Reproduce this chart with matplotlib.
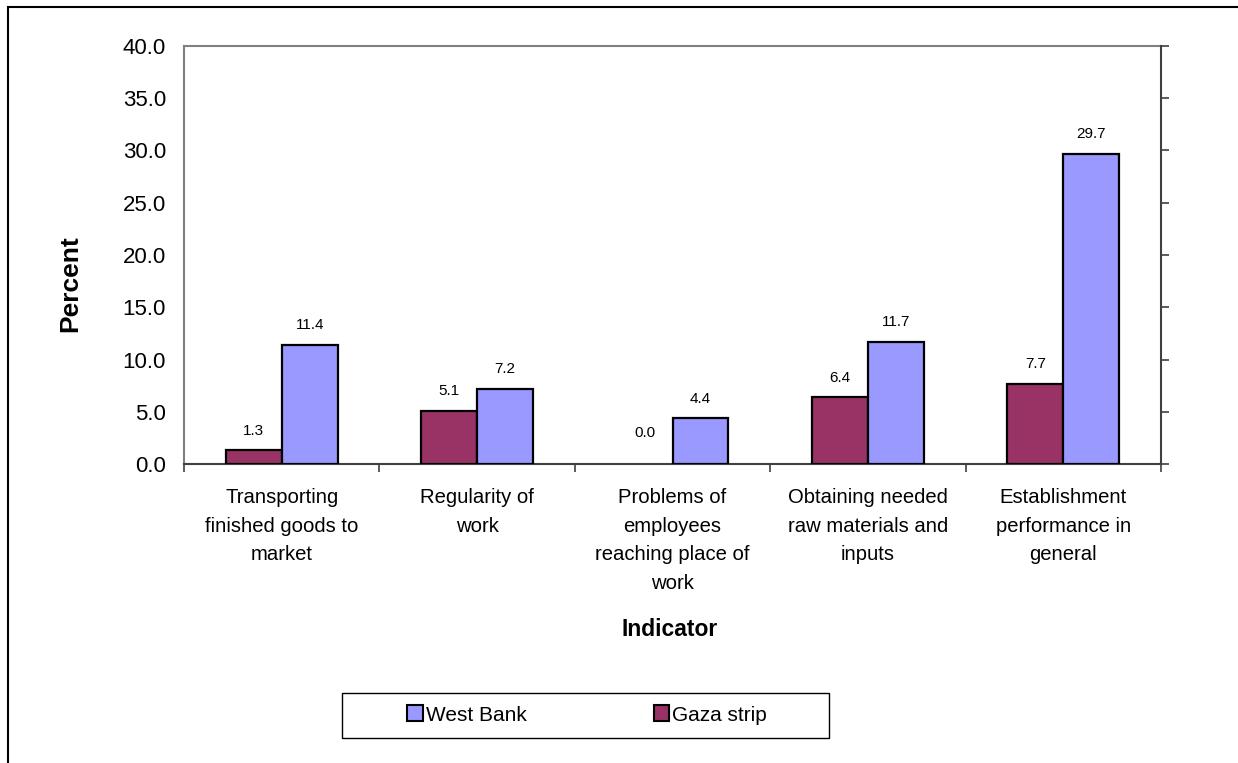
import numpy as np
import matplotlib
matplotlib.use("Agg")
import matplotlib.pyplot as plt
from matplotlib.patches import Rectangle, Patch

plt.rcParams["font.family"] = ["Liberation Sans", "DejaVu Sans"]

# data
categories = [
    "Transporting\nfinished goods to\nmarket",
    "Regularity of\nwork",
    "Problems of\nemployees\nreaching place of\nwork",
    "Obtaining needed\nraw materials and\ninputs",
    "Establishment\nperformance in\ngeneral",
]
gaza = [1.3, 5.1, 0.0, 6.4, 7.7]
west_bank = [11.4, 7.2, 4.4, 11.7, 29.7]
yticks = [0, 5, 10, 15, 20, 25, 30, 35, 40]

gaza_color = "#993366"
wb_color = "#9999FF"

W, H = 1238, 763
fig = plt.figure(figsize=(W / 100, H / 100), dpi=100)
ax = fig.add_axes([184 / W, 1 - 464 / H, (1161 - 184) / W, (464 - 46) / H])

x = np.arange(len(categories))
bw = 0.286
b1 = ax.bar(x - bw / 2, gaza, bw, color=gaza_color, edgecolor="black", linewidth=1.6, zorder=3)
b2 = ax.bar(x + bw / 2, west_bank, bw, color=wb_color, edgecolor="black", linewidth=1.6, zorder=3)

for bars, vals in ((b1, gaza), (b2, west_bank)):
    for r, v in zip(bars, vals):
        if v == 0:
            r.set_visible(False)  # Excel draws nothing for a zero bar
        off = 17 if v == 0 else 9
        ax.annotate(f"{v:.1f}", (r.get_x() + r.get_width() / 2, v),
                    xytext=(0, off), textcoords="offset points",
                    ha="center", va="bottom", fontsize=11)

ax.set_xlim(-0.5, len(categories) - 0.5)
ax.set_ylim(0, 40)
ax.set_yticks(yticks)
ax.set_yticklabels([f"{v:.1f}" for v in yticks], fontsize=16)
ax.tick_params(axis="y", length=0, pad=13)

ax.set_xticks(x)
ax.set_xticklabels(categories, fontsize=14.6, linespacing=1.66, va="top")
ax.set_xticks(np.arange(-0.5, len(categories)), minor=True)
ax.tick_params(axis="x", which="major", length=0, pad=17)
ax.tick_params(axis="x", which="minor", length=6, width=1.2, color="#404040")

for s in ("left", "top"):
    ax.spines[s].set_color("#808080")
    ax.spines[s].set_linewidth(1.5)
ax.spines["bottom"].set_color("#404040")
ax.spines["bottom"].set_linewidth(1.5)
ax.spines["right"].set_visible(False)

ax2 = ax.twinx()
ax2.set_ylim(0, 40)
ax2.set_yticks(yticks)
ax2.set_yticklabels([])
ax2.tick_params(axis="y", length=6, width=1.2, color="#404040")
ax2.spines["right"].set_color("#404040")
ax2.spines["right"].set_linewidth(1.5)
for s in ("left", "top", "bottom"):
    ax2.spines[s].set_visible(False)

fig.text(70 / W, 1 - 284 / H, "Percent", rotation=90, fontsize=19,
         fontweight="bold", ha="center", va="center")
fig.text(670 / W, 1 - 629 / H, "Indicator", fontsize=16.5,
         fontweight="bold", ha="center", va="center")

# legend box
fig.patches.append(Rectangle((342 / W, 1 - 738 / H), (829 - 342) / W, (738 - 693) / H,
                             transform=fig.transFigure, fill=False,
                             edgecolor="black", linewidth=1.0))
handles = [Patch(facecolor=wb_color, edgecolor="black", linewidth=1.5),
           Patch(facecolor=gaza_color, edgecolor="black", linewidth=1.5)]
fig.legend(handles, ["West Bank", "Gaza strip"], loc="center",
           bbox_to_anchor=(587 / W, 1 - 715 / H), ncol=2, frameon=False,
           fontsize=15, handlelength=0.75, handleheight=0.8, handletextpad=0.15,
           columnspacing=6.1)

# outer border
fig.patches.append(Rectangle((8 / W, -0.05), 1.1, 1 - 7 / H + 0.05,
                             transform=fig.transFigure, fill=False,
                             edgecolor="black", linewidth=1.5))

fig.savefig("out.png", dpi=100)
